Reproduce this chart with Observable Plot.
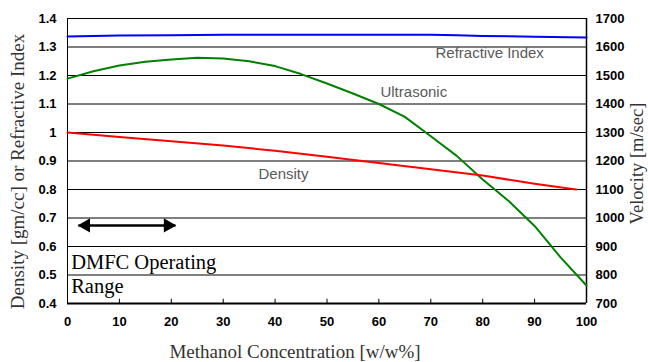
<!DOCTYPE html>
<html><head><meta charset="utf-8">
<script src="https://cdn.jsdelivr.net/npm/d3@7"></script>
<script src="https://cdn.jsdelivr.net/npm/@observablehq/plot@0.6"></script>
<style>body{margin:0;background:#fff} svg{display:block}</style>
</head><body><div id="chart"></div>
<script>
// Ultrasonic velocity [m/sec] (right axis)
const velConc  = [0, 5, 10, 15, 20, 25, 30, 35, 40, 45, 50, 55, 60, 65, 70, 75, 80, 85, 90, 95, 100];
const velocity = [1489, 1515, 1535, 1548, 1556, 1562, 1560, 1550, 1533, 1505, 1472, 1437, 1400, 1355, 1287, 1218, 1135, 1060, 972, 862, 763];
// Density [gm/cc] (left axis)
const densConc = [0, 10, 20, 30, 40, 50, 60, 70, 80, 90, 98];
const density  = [1.0, 0.984, 0.969, 0.954, 0.936, 0.915, 0.893, 0.871, 0.849, 0.82, 0.80];
// Refractive index (left axis)
const riConc = [0, 10, 20, 30, 40, 50, 60, 70, 75, 80, 90, 100];
const refractiveIndex = [1.337, 1.340, 1.341, 1.343, 1.343, 1.343, 1.343, 1.343, 1.341, 1.339, 1.336, 1.333];
// Ticks
const leftTicks = [0.4, 0.5, 0.6, 0.7, 0.8, 0.9, 1.0, 1.1, 1.2, 1.3, 1.4];
const velTicks  = [700, 800, 900, 1000, 1100, 1200, 1300, 1400, 1500, 1600, 1700];
const xTicks    = [0, 10, 20, 30, 40, 50, 60, 70, 80, 90, 100];
// DMFC operating range
const rangeX = [2.1, 20.8];
const rangeLevel = 0.674;

const toLeft = v => 0.4 + (v - 700) / 1000;
const toVel = d => String(Math.round(700 + (d - 0.4) * 1000));

const velData  = velConc.map((c, i) => ({c, y: toLeft(velocity[i])}));
const densData = densConc.map((c, i) => ({c, y: density[i]}));
const riData   = riConc.map((c, i) => ({c, y: refractiveIndex[i]}));

const sans = "Arial, 'Liberation Sans', sans-serif";
const serif = "'Times New Roman', 'Liberation Serif', serif";

const chart = Plot.plot({
  width: 648, height: 362,
  marginLeft: 67, marginRight: 62, marginTop: 18, marginBottom: 59,
  x: {domain: [0, 100]},
  y: {domain: [0.4, 1.4]},
  style: {background: "#fff", fontFamily: sans},
  marks: [
    Plot.ruleY(leftTicks, {stroke: "#000", strokeWidth: 1}),
    Plot.ruleX([0], {stroke: "#000", strokeWidth: 1}),
    Plot.ruleX([100], {stroke: "#000", strokeWidth: 1.5}),
    Plot.ruleY([0.4], {stroke: "#000", strokeWidth: 2}),
    Plot.ruleX(xTicks.slice(1, -1), {x: d => d, y1: 0.4, y2: 0.415, stroke: "#000", strokeWidth: 1}),
    Plot.axisY(leftTicks, {anchor: "left", tickSize: 0, tickPadding: 11, label: null,
      tickFormat: d => String(+d.toFixed(1)), fontSize: 13, fontWeight: "bold", fill: "#000"}),
    Plot.axisY(velTicks.map(toLeft), {anchor: "right", tickSize: 0, tickPadding: 9, label: null,
      tickFormat: toVel, fontSize: 13, fontWeight: "bold", fill: "#000"}),
    Plot.axisX(xTicks, {anchor: "bottom", tickSize: 0, tickPadding: 13, label: null,
      tickFormat: d => String(d), fontSize: 13, fontWeight: "bold", fill: "#000"}),
    Plot.line(riData, {x: "c", y: "y", stroke: "#0000ff", strokeWidth: 2}),
    Plot.line(velData, {x: "c", y: "y", stroke: "#008000", strokeWidth: 2}),
    Plot.line(densData, {x: "c", y: "y", stroke: "#ff0000", strokeWidth: 2}),
    // series labels
    Plot.text(["Refractive Index"], {x: 70.9, y: 1.277, text: d => d, textAnchor: "start",
      fontSize: 15, fill: "#5a5a5a", fontFamily: sans, style: "letter-spacing:0.6px"}),
    Plot.text(["Ultrasonic"], {x: 60.3, y: 1.14, text: d => d, textAnchor: "start",
      fontSize: 15, fill: "#5a5a5a", fontFamily: sans}),
    Plot.text(["Density"], {x: 36.8, y: 0.853, text: d => d, textAnchor: "start",
      fontSize: 15, fill: "#5a5a5a", fontFamily: sans}),
    // operating range arrow
    Plot.link([rangeX], {x1: d => d[0], x2: d => d[1], y1: rangeLevel, y2: rangeLevel, stroke: "#000", strokeWidth: 2.5}),
    Plot.dot([rangeX[0]], {x: d => d, y: rangeLevel, symbol: "triangle", r: 5.3, rotate: -90, fill: "#000", stroke: "none", dx: 7.5}),
    Plot.dot([rangeX[1]], {x: d => d, y: rangeLevel, symbol: "triangle", r: 5.3, rotate: 90, fill: "#000", stroke: "none", dx: -7.5}),
    Plot.text(["DMFC Operating"], {x: 0.7, y: 0.544, text: d => d, textAnchor: "start",
      fontSize: 20.5, fill: "#000", fontFamily: serif}),
    Plot.text(["Range"], {x: 0.7, y: 0.46, text: d => d, textAnchor: "start",
      fontSize: 20.5, fill: "#000", fontFamily: serif}),
    // axis titles
    Plot.text(["Density [gm/cc] or Refractive Index"], {frameAnchor: "left", text: d => d, rotate: -90,
      textAnchor: "middle", lineAnchor: "middle",
      dx: -50, dy: 10.5, fontSize: 19, fill: "#333", fontFamily: serif}),
    Plot.text(["Velocity [m/sec]"], {frameAnchor: "right", text: d => d, rotate: -90,
      textAnchor: "middle", lineAnchor: "middle",
      dx: 51, dy: 2.5, fontSize: 18.5, fill: "#333", fontFamily: serif}),
    Plot.text(["Methanol Concentration [w/w%]"], {frameAnchor: "bottom", text: d => d,
      textAnchor: "middle", lineAnchor: "middle",
      dx: -32, dy: 48, fontSize: 19, fill: "#333", fontFamily: serif})
  ]
});
document.getElementById("chart").appendChild(chart);
</script>
</body></html>
